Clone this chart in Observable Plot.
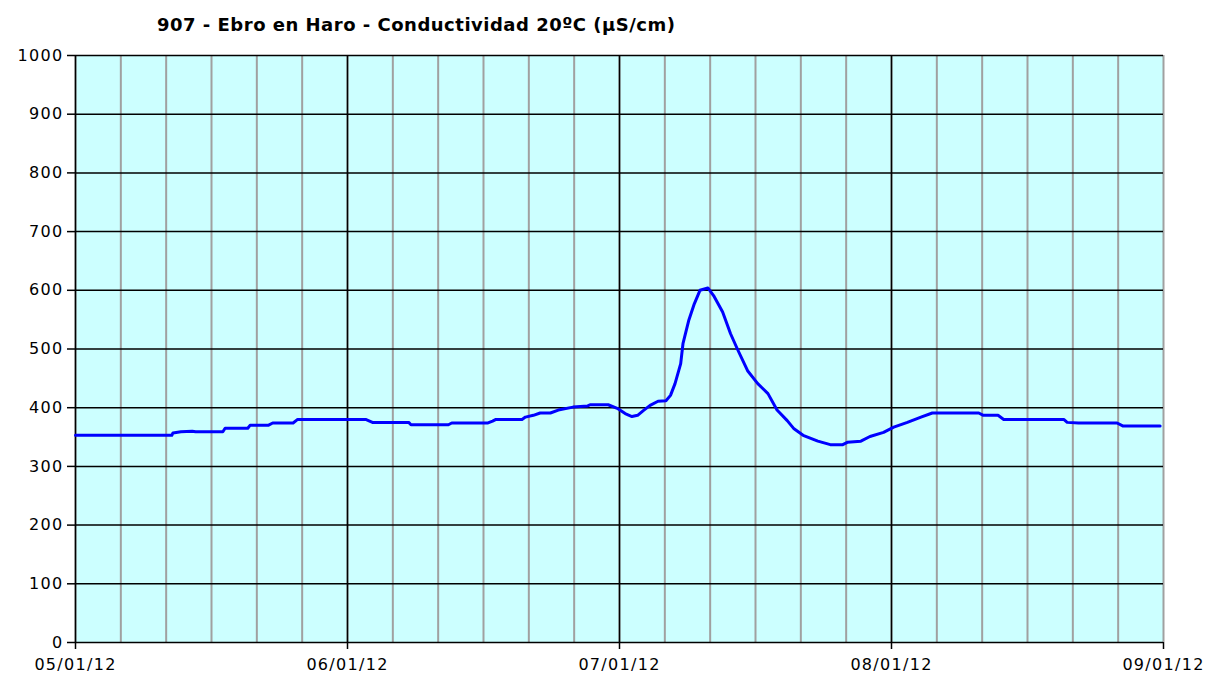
<!DOCTYPE html>
<html>
<head>
<meta charset="utf-8">
<script src="https://cdn.jsdelivr.net/npm/d3@7"></script>
<script src="https://cdn.jsdelivr.net/npm/@observablehq/plot@0.6"></script>
<style>
  html, body { margin: 0; padding: 0; background: #fff; }
  #wrap { width: 1209px; height: 677px; position: relative; }
  #title { height: 40px; font-family: "DejaVu Sans", sans-serif; font-weight: bold; font-size: 18px; letter-spacing: 0.5px; color: #000; padding-left: 157px; box-sizing: border-box; padding-top: 15px; line-height: 20px; white-space: nowrap; }
  svg text { letter-spacing: 1.3px; }
</style>
</head>
<body>
<div id="wrap">
  <div id="title"></div>
  <div id="chart"></div>
</div>
<script>
const titleText = "907 - Ebro en Haro - Conductividad 20ºC (µS/cm)";
const times = [
  "2012-01-05T00:00","2012-01-05T08:30","2012-01-05T08:36","2012-01-05T09:18","2012-01-05T10:18","2012-01-05T10:36",
  "2012-01-05T13:00","2012-01-05T13:12","2012-01-05T15:12","2012-01-05T15:24","2012-01-05T17:00","2012-01-05T17:24",
  "2012-01-05T19:12","2012-01-05T19:36","2012-01-06T01:36","2012-01-06T02:12","2012-01-06T05:24","2012-01-06T05:36",
  "2012-01-06T08:54","2012-01-06T09:12","2012-01-06T12:24","2012-01-06T12:48","2012-01-06T13:06","2012-01-06T15:24",
  "2012-01-06T15:42","2012-01-06T16:24","2012-01-06T17:00","2012-01-06T17:54","2012-01-06T18:36","2012-01-06T19:54",
  "2012-01-06T21:12","2012-01-06T21:24","2012-01-06T23:00","2012-01-06T23:48","2012-01-07T00:30","2012-01-07T01:06",
  "2012-01-07T01:36","2012-01-07T02:06","2012-01-07T02:42","2012-01-07T03:24","2012-01-07T04:06","2012-01-07T04:30",
  "2012-01-07T04:54","2012-01-07T05:24","2012-01-07T05:36","2012-01-07T06:06","2012-01-07T06:36","2012-01-07T07:06",
  "2012-01-07T07:48","2012-01-07T08:18","2012-01-07T09:06","2012-01-07T09:48","2012-01-07T10:24","2012-01-07T11:18",
  "2012-01-07T12:12","2012-01-07T13:06","2012-01-07T13:54","2012-01-07T14:48","2012-01-07T15:24","2012-01-07T16:12",
  "2012-01-07T17:30","2012-01-07T18:36","2012-01-07T19:42","2012-01-07T20:06","2012-01-07T21:18","2012-01-07T22:06",
  "2012-01-07T23:18","2012-01-08T00:12","2012-01-08T01:24","2012-01-08T02:36","2012-01-08T03:36","2012-01-08T07:42",
  "2012-01-08T08:06","2012-01-08T09:24","2012-01-08T09:54","2012-01-08T15:12","2012-01-08T15:30","2012-01-08T16:30",
  "2012-01-08T19:54","2012-01-08T20:24","2012-01-08T23:42"
];
const values = [
  353,353,357,359,360,359,
  359,365,365,370,370,374,
  374,380,380,375,375,371,
  371,374,374,377,380,380,
  384,387,391,391,396,401,
  403,405,405,399,390,385,
  387,395,404,411,412,421,
  441,475,509,548,577,600,
  604,591,563,526,500,463,
  441,424,396,378,364,353,
  343,337,337,341,343,351,
  358,367,375,384,391,391,
  387,387,380,380,375,374,
  374,369,369
];
const yTicks = [0,100,200,300,400,500,600,700,800,900,1000];
const dayLabels = ["2012-01-05","2012-01-06","2012-01-07","2012-01-08","2012-01-09"];

document.getElementById("title").textContent = titleText;

const parse = s => new Date(s + (s.length > 10 ? ":00Z" : "T00:00:00Z"));
const data = times.map((t, i) => ({t: parse(t), v: values[i]}));
const days = dayLabels.map(parse);
const x0 = days[0], x1 = days[days.length - 1];
const minor = d3.utcHour.every(4).range(x0, new Date(+x1 + 1));
const fmt = d3.utcFormat("%d/%m/%y");

const chart = Plot.plot({
  width: 1209,
  height: 637,
  marginLeft: 75,
  marginRight: 46,
  marginTop: 15,
  marginBottom: 35,
  style: {fontFamily: "'DejaVu Sans', Verdana, sans-serif", fontSize: "16px", color: "#000", background: "#fff"},
  x: {type: "utc", domain: [x0, x1]},
  y: {domain: [0, 1000]},
  marks: [
    Plot.frame({fill: "#CCFFFF", stroke: null}),
    Plot.ruleX(minor, {stroke: "#A0A0A0", strokeWidth: 2}),
    Plot.ruleY(yTicks, {stroke: "#000", strokeWidth: 1.5}),
    Plot.ruleX(days.slice(0, -1), {stroke: "#000", strokeWidth: 1.5}),
    Plot.line(data, {x: "t", y: "v", stroke: "#0000FF", strokeWidth: 3}),
    Plot.axisY({ticks: yTicks, tickSize: 8, tickPadding: 4, tickFormat: d => String(d), label: null, stroke: "#000", strokeWidth: 1.5}),
    Plot.axisX({ticks: days, tickSize: 7, tickPadding: 9, tickFormat: fmt, label: null, stroke: "#000", strokeWidth: 1.5})
  ]
});
document.getElementById("chart").appendChild(chart);
</script>
</body>
</html>
